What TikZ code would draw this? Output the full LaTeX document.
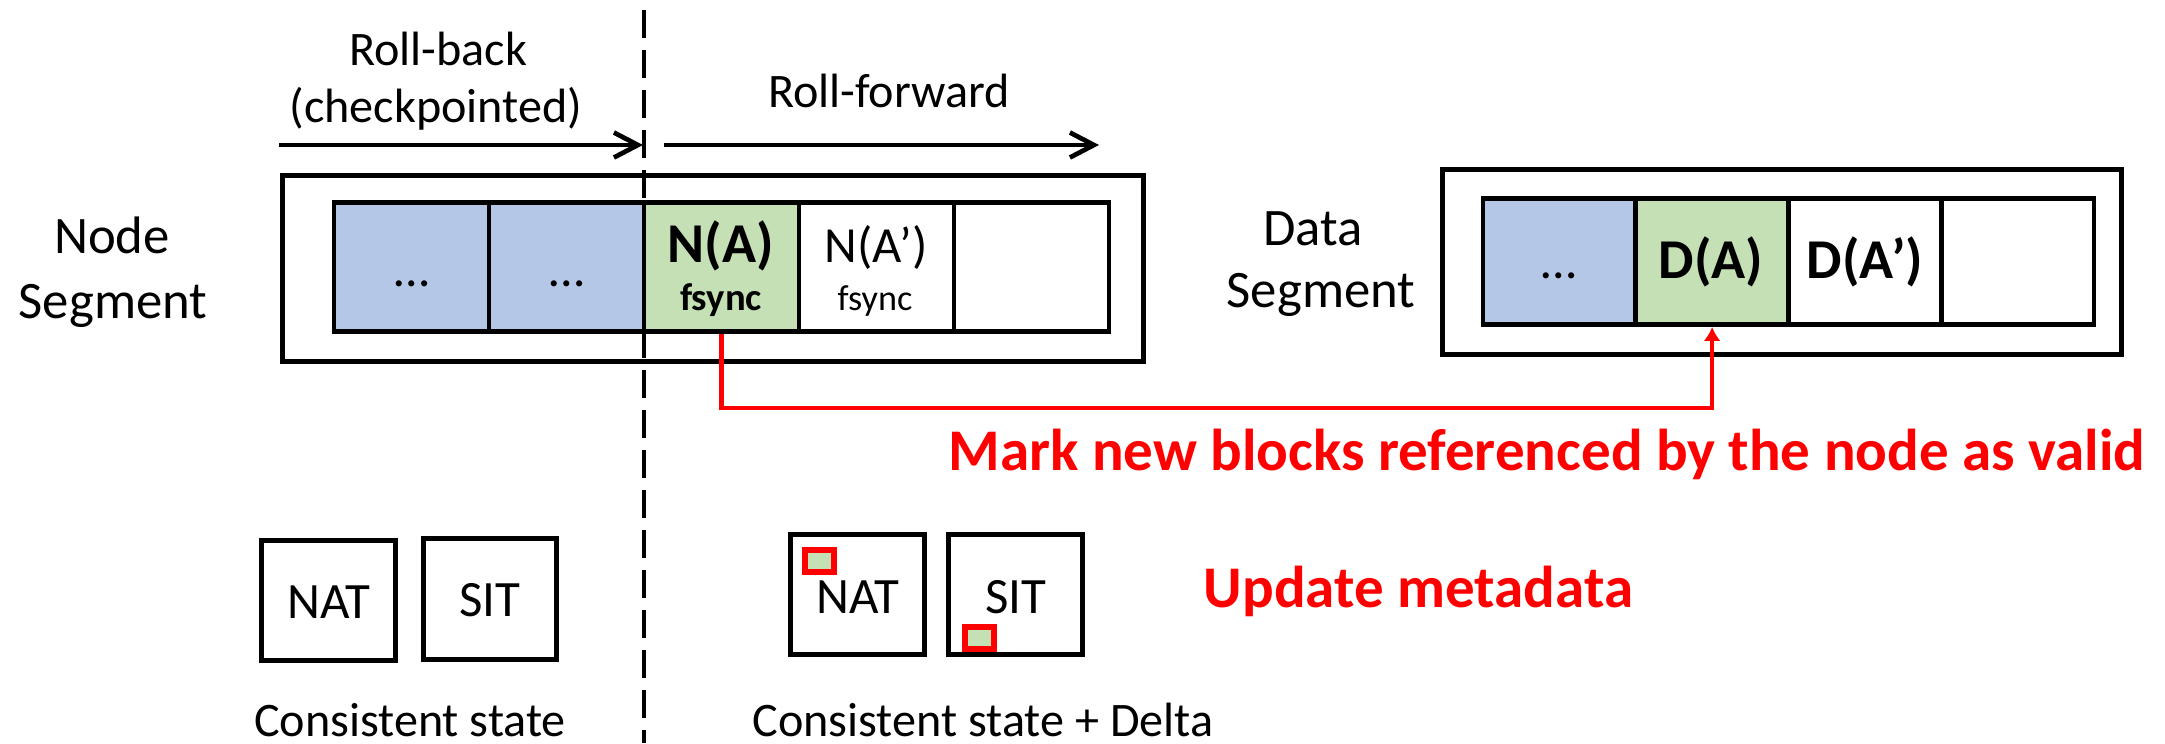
\documentclass[tikz,border=0pt]{standalone}
\usepackage{fontspec}
\setmainfont{Carlito}
\usetikzlibrary{arrows.meta,calc}

\definecolor{cellblue}{HTML}{B4C7E7}
\definecolor{cellgreen}{HTML}{C5E0B4}
\definecolor{alertred}{HTML}{FF0000}

\begin{document}
\begin{tikzpicture}[x=0.1mm,y=-0.1mm,
  lbl/.style={inner sep=0pt,outer sep=0pt,anchor=base},
  txtmid/.style={font=\fontsize{13.7}{16}\selectfont},
  txtseg/.style={font=\fontsize{15}{18}\selectfont},
  txtcell/.style={font=\fontsize{14.4}{17}\selectfont},
  txtcellb/.style={font=\bfseries\fontsize{16}{19}\selectfont},
  txtsync/.style={font=\fontsize{10.3}{12}\selectfont},
  txtsyncb/.style={font=\bfseries\fontsize{11}{13}\selectfont},
  txttab/.style={font=\fontsize{14.5}{17}\selectfont},
  txtalert/.style={font=\bfseries\fontsize{16.8}{20}\selectfont,text=alertred},
  frame/.style={draw,line width=0.5mm,inner sep=0pt},
  cell/.style={draw,line width=0.48mm,inner sep=0pt,minimum width=15.5mm,minimum height=12.9mm},
  dcell/.style={cell,minimum width=15.275mm,minimum height=12.6mm},
  tab/.style={draw,line width=0.5mm,inner sep=0pt,minimum width=13.4mm,minimum height=12mm},
  delta/.style={draw=alertred,fill=cellgreen,line width=0.6mm,inner sep=0pt,minimum width=2.9mm,minimum height=2.2mm},
  flow/.style={line width=0.47mm,-{Straight Barb[length=2.4mm,width=2.5mm]}},
  link/.style={draw=alertred,line width=0.45mm,-{Latex[length=1.4mm,width=1.7mm]}},
  divider/.style={line width=0.45mm,dash pattern=on 2.8mm off 1.2mm},
]
\useasboundingbox (0,0) rectangle (2165,743);

% node segment
\node[frame,minimum width=86.1mm,minimum height=18.55mm] (nseg) at (712.5,268.25) {};
\node[cell,fill=cellblue]  (c1) at (411.5,267) {};
\node[cell,fill=cellblue]  (c2) at (566.5,267) {};
\node[cell,fill=cellgreen] (c3) at (721.5,267) {};
\node[cell]                (c4) at (876.5,267) {};
\node[cell]                (c5) at (1031.5,267) {};

\node[lbl,txtcell]  (e1)  at (411.5,286) {…};
\node[lbl,txtcell]  (e2)  at (566.5,286) {…};
\node[lbl,txtcellb] (na)  at (721,262) {N(A)};
\node[lbl,txtsyncb] (nas) at (721,310) {fsync};
\node[lbl,txtcell]  (nb)  at (876,262) {N(A’)};
\node[lbl,txtsync]  (nbs) at (875,310) {fsync};

\node[lbl,txtseg] (ns1) at (112,253) {Node};
\node[lbl,txtseg] (ns2) at (113,318) {Segment};

% data segment
\node[frame,minimum width=67.9mm,minimum height=18.5mm] (dseg) at (1781.5,262) {};
\node[dcell,fill=cellblue]  (d1) at (1559.4,261.5) {};
\node[dcell,fill=cellgreen] (d2) at (1712.1,261.5) {};
\node[dcell]                (d3) at (1864.9,261.5) {};
\node[dcell]                (d4) at (2017.6,261.5) {};

\node[lbl,txtcell]  (e3) at (1559,278) {…};
\node[lbl,txtcellb] (da) at (1711,278) {D(A)};
\node[lbl,txtcellb] (db) at (1865,278) {D(A’)};

\node[lbl,txtseg] (ds1) at (1313,245) {Data};
\node[lbl,txtseg] (ds2) at (1321,307) {Segment};

% roll-back / roll-forward
\coordinate (rbstart) at (279,145);
\coordinate (rbend)   at (643,145);
\coordinate (rfstart) at (664,145);
\coordinate (rfend)   at (1099,145);
\draw[flow] (rbstart) -- (rbend);
\draw[flow] (rfstart) -- (rfend);
\node[lbl,txtmid] (rb1) at (438,65)  {Roll-back};
\node[lbl,txtmid] (rb2) at (436,122) {(checkpointed)};
\node[lbl,txtmid] (rf)  at (889,107) {Roll-forward};

% checkpoint boundary
\coordinate (dtop) at (644,10);
\coordinate (dbot) at (644,743);
\draw[divider] (dtop) -- (dbot);

% node -> data block link
\coordinate (bend) at (0,408);
\draw[link] (c3.south) -- (c3.south |- bend) -| (d2.south);
\node[lbl,txtalert] (mark) at (1547,470) {Mark new blocks referenced by the node as valid};

% metadata tables
\node[tab,minimum width=13.4mm,minimum height=12mm]  (tn1) at (328.5,600.5) {};
\node[tab,minimum width=13.3mm,minimum height=12.1mm] (ts1) at (490,599) {};
\node[lbl,txttab] (tn1t) at (329,618) {NAT};
\node[lbl,txttab] (ts1t) at (490,616) {SIT};
\node[lbl,txtmid] (cs1) at (410,736) {Consistent state};

\node[tab] (tn2) at (857.5,594.5) {};
\node[tab] (ts2) at (1015.5,594.5) {};
\node[lbl,txttab] (tn2t) at (858,613) {NAT};
\node[lbl,txttab] (ts2t) at (1016,613) {SIT};
\node[delta] (dn) at (819.5,561) {};
\node[delta] (dsq) at (979.5,637.5) {};
\node[lbl,txtmid] (cs2) at (983,736) {Consistent state + Delta};

\node[lbl,txtalert] (upd) at (1418.5,607) {Update metadata};
\end{tikzpicture}
\end{document}
